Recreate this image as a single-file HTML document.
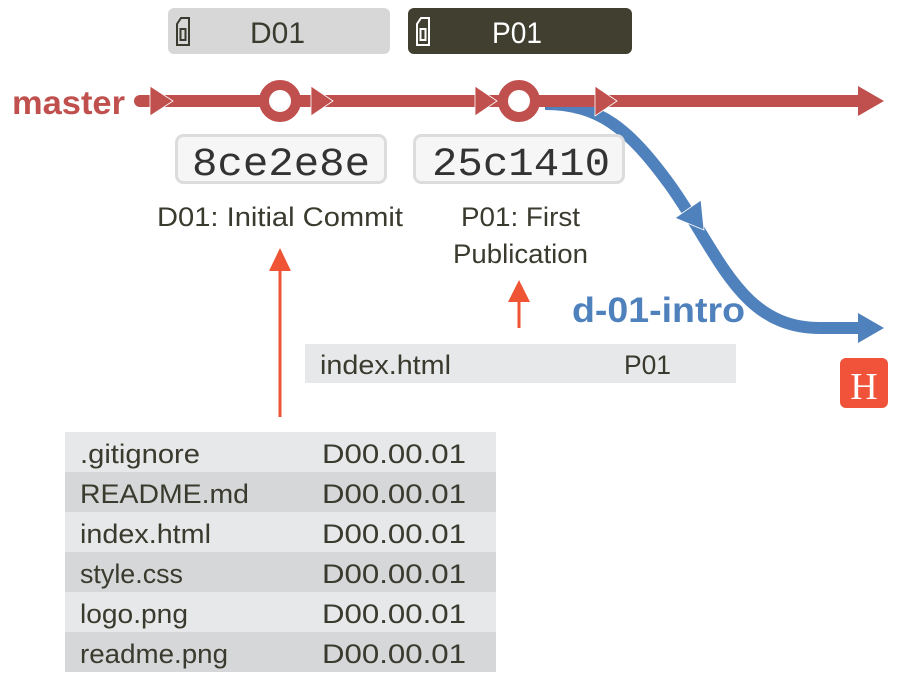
<!DOCTYPE html>
<html><head><meta charset="utf-8"><style>
html,body{margin:0;padding:0;background:#fff;}
svg{display:block;}
text{font-family:"Liberation Sans",sans-serif;}
</style></head><body>
<svg width="901" height="691" viewBox="0 0 901 691" xmlns="http://www.w3.org/2000/svg">
<!-- tags -->
<rect x="168" y="8" width="222" height="46" rx="6" fill="#d7d7d7"/>
<rect x="408" y="8" width="224" height="46" rx="6" fill="#403f30"/>
<g fill="none" stroke="#3a3a2e" stroke-width="2">
<path d="M177 45 V24 L181 18 H189 V45 Z"/><rect x="180.5" y="29" width="5" height="11"/>
</g>
<g fill="none" stroke="#fff" stroke-width="2">
<path d="M417 45 V24 L421 18 H429 V45 Z"/><rect x="420.5" y="29" width="5" height="11"/>
</g>
<text x="250" y="43" font-size="30" fill="#3a3a2e" textLength="55" lengthAdjust="spacingAndGlyphs">D01</text>
<text x="492" y="43" font-size="30" fill="#fff" textLength="50" lengthAdjust="spacingAndGlyphs">P01</text>

<!-- master -->
<text x="12" y="114" font-size="33" font-weight="bold" fill="#c0504d" textLength="113" lengthAdjust="spacingAndGlyphs">master</text>
<!-- blue branch -->
<path d="M545 104 C600 104 630 130 670 185 C720 255 740 328 820 328 L862 328" fill="none" stroke="#4f81bd" stroke-width="12"/>
<polygon points="884,328 858,313 858,343" fill="#4f81bd"/>
<polygon points="704,230 675,218 701,200" fill="#4f81bd" stroke="#fff" stroke-width="0.8"/>
<!-- red line -->
<line x1="140" y1="101" x2="862" y2="101" stroke="#c0504d" stroke-width="12" stroke-linecap="round"/>
<polygon points="884,101 858,86 858,116" fill="#c0504d"/>
<polygon points="173,101 150,86 150,116" fill="#c0504d" stroke="#fff" stroke-width="0.8"/>
<polygon points="333,101 311,86 311,116" fill="#c0504d" stroke="#fff" stroke-width="0.8"/>
<polygon points="497,101 475,86 475,116" fill="#c0504d" stroke="#fff" stroke-width="0.8"/>
<polygon points="617,101 595,86 595,116" fill="#c0504d" stroke="#fff" stroke-width="0.8"/>
<circle cx="280" cy="101" r="16" fill="#fff" stroke="#c0504d" stroke-width="10"/>
<circle cx="519" cy="101" r="16" fill="#fff" stroke="#c0504d" stroke-width="10"/>

<!-- hash boxes -->
<rect x="176.5" y="135.5" width="209" height="47" rx="7" fill="#f6f6f6" stroke="#dcdcdc" stroke-width="3"/>
<rect x="414.5" y="135.5" width="209" height="47" rx="7" fill="#f6f6f6" stroke="#dcdcdc" stroke-width="3"/>
<text x="192" y="175" font-size="40" fill="#333" textLength="178" lengthAdjust="spacingAndGlyphs" style="font-family:'Liberation Mono',monospace">8ce2e8e</text>
<text x="432" y="175" font-size="40" fill="#333" textLength="178" lengthAdjust="spacingAndGlyphs" style="font-family:'Liberation Mono',monospace">25c1410</text>

<g font-size="27" fill="#3a3a2e">
<text x="157" y="226" textLength="246" lengthAdjust="spacingAndGlyphs">D01: Initial Commit</text>
<text x="461" y="226" textLength="119" lengthAdjust="spacingAndGlyphs">P01: First</text>
<text x="453" y="263" textLength="135" lengthAdjust="spacingAndGlyphs">Publication</text>
</g>

<text x="572" y="322" font-size="35" font-weight="bold" fill="#4f81bd" textLength="173" lengthAdjust="spacingAndGlyphs">d-01-intro</text>

<!-- orange arrows -->
<line x1="280" y1="268" x2="280" y2="417" stroke="#ef5535" stroke-width="3"/>
<polygon points="280,248 269,271 291,271" fill="#ef5535"/>
<line x1="519" y1="300" x2="519" y2="328" stroke="#ef5535" stroke-width="3"/>
<polygon points="519,280 508,302 530,302" fill="#ef5535"/>

<!-- H badge -->
<rect x="840" y="358" width="48" height="50" rx="6" fill="#f0533a"/>
<text x="864" y="399" font-size="38" fill="#fff" text-anchor="middle" style="font-family:'Liberation Serif',serif">H</text>

<!-- index row -->
<rect x="305" y="344" width="431" height="39" fill="#e6e8e9"/>
<g font-size="27" fill="#3a3a2e" lengthAdjust="spacingAndGlyphs">
<text x="320" y="374" textLength="131" lengthAdjust="spacingAndGlyphs">index.html</text>
<text x="624" y="374" textLength="47" lengthAdjust="spacingAndGlyphs">P01</text>
</g>

<!-- table -->
<rect x="65" y="432" width="431" height="40" fill="#e6e8e9"/>
<rect x="65" y="472" width="431" height="40" fill="#d5d7d8"/>
<rect x="65" y="512" width="431" height="40" fill="#e6e8e9"/>
<rect x="65" y="552" width="431" height="40" fill="#d5d7d8"/>
<rect x="65" y="592" width="431" height="40" fill="#e6e8e9"/>
<rect x="65" y="632" width="431" height="40" fill="#d5d7d8"/>
<g font-size="27" fill="#3a3a2e">
<text x="80" y="463" textLength="120" lengthAdjust="spacingAndGlyphs">.gitignore</text><text x="322" y="463" textLength="144" lengthAdjust="spacingAndGlyphs">D00.00.01</text>
<text x="80" y="503" textLength="169" lengthAdjust="spacingAndGlyphs">README.md</text><text x="322" y="503" textLength="144" lengthAdjust="spacingAndGlyphs">D00.00.01</text>
<text x="80" y="543" textLength="131" lengthAdjust="spacingAndGlyphs">index.html</text><text x="322" y="543" textLength="144" lengthAdjust="spacingAndGlyphs">D00.00.01</text>
<text x="80" y="583" textLength="103" lengthAdjust="spacingAndGlyphs">style.css</text><text x="322" y="583" textLength="144" lengthAdjust="spacingAndGlyphs">D00.00.01</text>
<text x="80" y="623" textLength="108" lengthAdjust="spacingAndGlyphs">logo.png</text><text x="322" y="623" textLength="144" lengthAdjust="spacingAndGlyphs">D00.00.01</text>
<text x="80" y="663" textLength="148" lengthAdjust="spacingAndGlyphs">readme.png</text><text x="322" y="663" textLength="144" lengthAdjust="spacingAndGlyphs">D00.00.01</text>
</g>
</svg>
</body></html>
